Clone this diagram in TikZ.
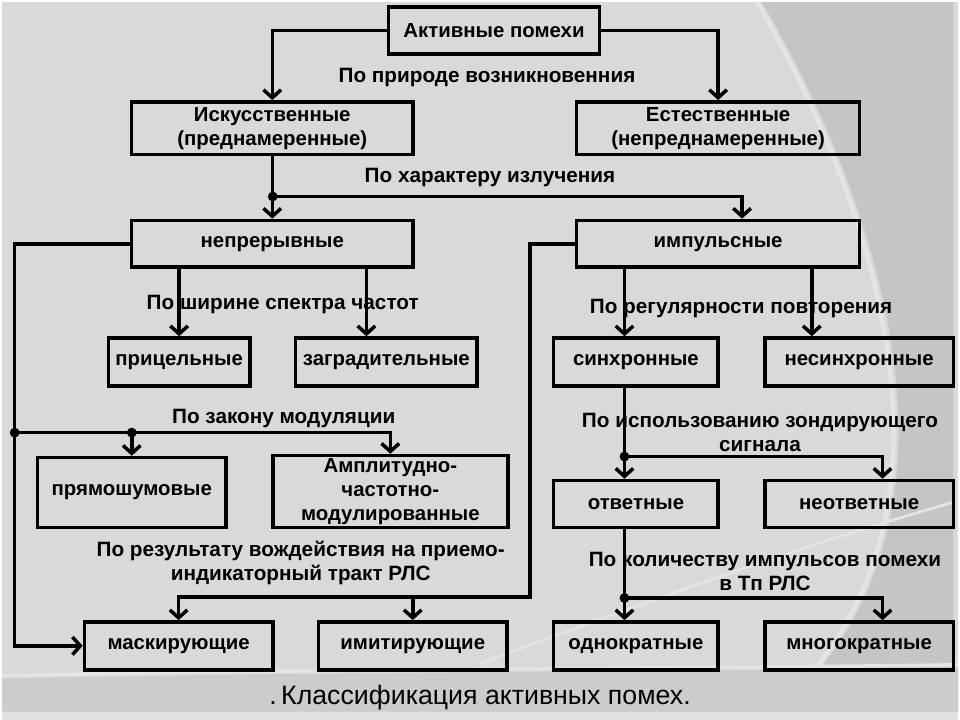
\documentclass[tikz,border=0pt]{standalone}
\usepackage{fontspec}
\setmainfont{Liberation Sans}
\usetikzlibrary{arrows.meta, positioning, calc}
\definecolor{slidebg}{HTML}{D9D9D9}
\definecolor{slidedark}{HTML}{C5C5C5}
\definecolor{slidelight}{HTML}{E4E4E4}
\definecolor{slideband}{HTML}{CCCCCC}

\begin{document}
\begin{tikzpicture}[x=0.567pt,y=-0.567pt,
  box/.style={draw, line width=2pt, inner sep=0pt, align=center, font=\bfseries\fontsize{11.6}{13.6}\selectfont},
  sz/.style 2 args={minimum width=#1*0.567pt, minimum height=#2*0.567pt},
  lbl/.style={align=center, inner sep=0pt, font=\bfseries\fontsize{11.8}{13.6}\selectfont},
  link/.style={line width=2pt},
  arr/.style={link, -{Straight Barb[length=4.5pt,width=10pt]}},
  dot/.style={circle, fill, inner sep=0pt, minimum size=5.6pt}]

% slide background
\fill[slidebg] (0,0) rectangle (960,720);
\fill[slidedark] (763,0) .. controls (845,140) and (902,300) .. (900,440)
  .. controls (898,560) and (850,650) .. (780,712) -- (955,712) -- (955,0) -- cycle;
\draw[slidelight, line width=2.5pt] (758,0) .. controls (840,140) and (897,300) .. (895,440)
  .. controls (893,560) and (845,650) .. (775,712);
\draw[slidelight, line width=1.5pt] (480,664) .. controls (650,600) and (820,540) .. (955,502);
\fill[slideband] (0,679) .. controls (300,672) and (700,672) .. (960,668) -- (960,712) -- (0,712) -- cycle;
\draw[slidelight, line width=2pt] (0,676) .. controls (300,669) and (700,669) .. (960,665);
\fill[slidebg!80!white] (0,712) rectangle (960,720);

% labels
\node[lbl] (l1) at (487,76) {По природе возникновенния};
\node[lbl] (l2) at (490,176) {По характеру излучения};
\node[lbl] (l3) at (282,303) {По ширине спектра частот};
\node[lbl] (l4) at (283,418) {По закону модуляции};
\node[lbl] (l5) at (300,563) {По результату вождействия на приемо-\\индикаторный тракт РЛС};
\node[lbl] (l6) at (742,307) {По регулярности повторения};
\node[lbl] (l7) at (761,432) {По использованию зондирующего\\сигнала};
\node[lbl] (l8) at (766,571) {По количеству импульсов помехи\\в Тп РЛС};

% boxes
\node[box, sz={212}{47}] (act) at (494,28.5) {Активные помехи};
\node[box, sz={283}{53}] (art) at (271.5,126.5) {Искусственные\\(преднамеренные)};
\node[box, sz={284}{53}] (nat) at (719,126.5) {Естественные\\(непреднамеренные)};
\node[box, sz={283}{47}] (cont) at (271.5,242.5) {непрерывные};
\node[box, sz={284}{47}] (puls) at (719,242.5) {импульсные};
\node[box, sz={142}{48}] (aim) at (178,361) {прицельные};
\node[box, sz={182}{48}] (barr) at (386,361) {заградительные};
\node[box, sz={165}{48}] (sync) at (636.5,361) {синхронные};
\node[box, sz={189}{48}] (nonsync) at (860.5,361) {несинхронные};
\node[box, sz={189}{70}] (direct) at (130.5,492) {прямошумовые};
\node[box, sz={236}{72}] (amfm) at (390,491) {Амплитудно-\\частотно-\\модулированные};
\node[box, sz={165}{47}] (resp) at (636.5,503.5) {ответные};
\node[box, sz={189}{47}] (nonresp) at (860.5,503.5) {неответные};
\node[box, sz={189}{48}] (mask) at (177.5,646) {маскирующие};
\node[box, sz={189}{48}] (imit) at (412.5,646) {имитирующие};
\node[box, sz={165}{48}] (one) at (636.5,646) {однократные};
\node[box, sz={189}{48}] (many) at (860.5,646) {многократные};

\node[font=\fontsize{15.2}{18}\selectfont] (cap) at (480,698) {.\,Классификация активных помех.};

% junctions
\coordinate (j1) at (272,195);
\coordinate (j3) at (13,432);
\coordinate (j4) at (direct.north |- j3);
\coordinate (j5) at (530,597);
\coordinate (j6) at (625,456);
\coordinate (j7) at (625,598);

% connectors
\draw[arr] (act.west) -| (art.north);
\draw[arr] (act.east) -| (nat.north);
\draw[arr] (art.south) -- (cont.north);
\draw[arr] (j1) -| ($(puls.north)+(24,0)$);
\draw[arr] (cont.south -| aim.north) -- (aim.north);
\draw[arr] (cont.south -| 366,0) -- (barr.north -| 366,0);
\draw[arr] (puls.south -| j6) -- (sync.north -| j6);
\draw[arr] (puls.south -| 813,0) -- (nonsync.north -| 813,0);
\draw[arr] (sync.south -| j6) -- (resp.north -| j6);
\draw[arr] (j6) -| (nonresp.north -| 884,0);
\draw[arr] (resp.south -| j7) -- (one.north -| j7);
\draw[arr] (j7) -| (many.north -| 884,0);
\draw[arr] (cont.west) -- (cont.west -| j3) |- (mask.west);
\draw[arr] (j3) -| (amfm.north);
\draw[arr] (j4) -- (direct.north);
\draw[arr] (puls.west) -| (j5) -| (mask.north);
\draw[arr] (imit.north |- j5) -- (imit.north);
\foreach \p in {j1,j3,j4,j6,j7} \node[dot] at (\p) {};
\end{tikzpicture}
\end{document}
